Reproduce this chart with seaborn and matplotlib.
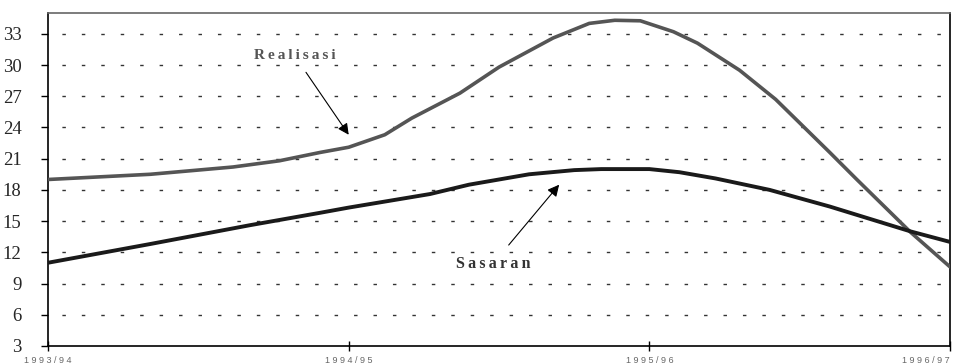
import matplotlib.pyplot as plt
import pandas as pd
import seaborn as sns

# tahun (0 = 1993/94, 1 = 1994/95, ...)
periods = ["1993/94", "1994/95", "1995/96", "1996/97"]

real_x = [0, 0.34, 0.615, 0.77, 0.905, 1.0, 1.12, 1.21, 1.37, 1.50, 1.68,
          1.80, 1.885, 1.97, 2.08, 2.16, 2.30, 2.42, 2.60, 2.69, 2.87, 3.0]
real_y = [19.0, 19.5, 20.2, 20.8, 21.6, 22.1, 23.3, 24.9, 27.3, 29.8, 32.6,
          34.0, 34.3, 34.25, 33.2, 32.1, 29.5, 26.7, 21.6, 19.0, 13.9, 10.6]

target_x = [0, 0.34, 0.67, 0.905, 1.0, 1.27, 1.40, 1.50, 1.60, 1.75, 1.84,
            2.0, 2.10, 2.22, 2.40, 2.60, 2.87, 3.0]
target_y = [11.0, 12.8, 14.6, 15.8, 16.3, 17.6, 18.5, 19.0, 19.5, 19.9, 20.0,
            20.0, 19.7, 19.1, 18.0, 16.4, 14.0, 13.0]

yticks = [3, 6, 9, 12, 15, 18, 21, 24, 27, 30, 33]

df_real = pd.DataFrame({"t": real_x, "v": real_y})
df_target = pd.DataFrame({"t": target_x, "v": target_y})

sns.set_style("white")
plt.rcParams["font.family"] = ["Liberation Serif", "DejaVu Serif"]

fig = plt.figure(figsize=(9.55, 3.64), dpi=100)
ax = fig.add_axes([0.0503, 0.0495, 0.9445, 0.9148])

for y in yticks[1:]:
    ax.axhline(y, color="#333333", lw=1.0, ls=(4, (2.5, 11.5)), zorder=1)

sns.lineplot(data=df_real, x="t", y="v", color="#555555", lw=2.6, ax=ax,
             sort=False, zorder=3)
sns.lineplot(data=df_target, x="t", y="v", color="#1a1a1a", lw=2.8, ax=ax,
             sort=False, zorder=3)

ax.set_xlim(0, 3)
ax.set_ylim(3, 35)
ax.set_xlabel("")
ax.set_ylabel("")
ax.set_yticks(yticks)
ax.set_yticklabels([str(v) for v in yticks], fontsize=13.5)
ax.set_xticks(range(len(periods)))
ax.set_xticklabels([" ".join(p) for p in periods], fontsize=6.5,
                   color="#666666", family=["Liberation Sans"])
# label terakhir rata kanan supaya tidak terpotong
ax.get_xticklabels()[-1].set_horizontalalignment("right")
ax.tick_params(axis="y", direction="out", length=5, width=1, color="black",
               left=True, pad=14)
ax.tick_params(axis="x", direction="inout", length=7, width=1, color="black",
               bottom=True, pad=4)

for side in ["left", "bottom", "right"]:
    ax.spines[side].set_color("black")
    ax.spines[side].set_linewidth(1.2)
ax.spines["top"].set_color("#666666")
ax.spines["top"].set_linewidth(1.2)

ax.annotate("\u2009".join("Realisasi"), xy=(1.0, 23.3), xytext=(0.82, 30.9),
            fontsize=11, fontweight="bold", color="#555555",
            ha="center", va="center",
            arrowprops=dict(arrowstyle="-|>,head_length=0.6,head_width=0.3",
                            color="black", lw=0.8, shrinkA=6, shrinkB=0))
ax.annotate("\u2009".join("Sasaran"), xy=(1.70, 18.5), xytext=(1.48, 10.9),
            fontsize=11.5, fontweight="bold", color="#333333",
            ha="center", va="center",
            arrowprops=dict(arrowstyle="-|>,head_length=0.6,head_width=0.3",
                            color="black", lw=0.8, shrinkA=7, shrinkB=0))

fig.savefig("out.png", dpi=100)
